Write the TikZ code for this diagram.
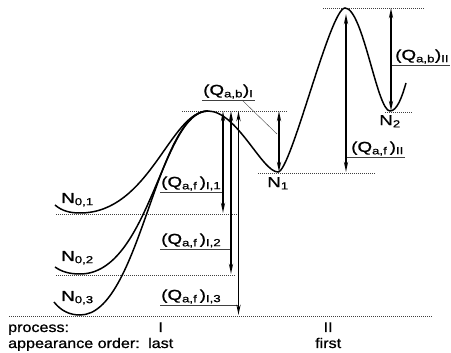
\documentclass[tikz,border=0pt]{standalone}
\usepackage{fontspec}
\setmainfont[FakeStretch=1.15,FakeBold=0.9]{Liberation Sans}
\newfontfamily\lblfont[FakeStretch=1.3,FakeBold=0.8]{Liberation Sans}
\usetikzlibrary{arrows.meta,positioning}
\newcommand{\sbs}[1]{\textsubscript{#1}}

\begin{document}
\begin{tikzpicture}[
  x=1pt, y=1pt,
  font=\fontsize{14}{16}\selectfont,
  curve/.style={line width=1.5pt, black},
  level/.style={line width=0.5pt, black!75, dash pattern=on 1pt off 1pt},
  leader/.style={line width=0.7pt, black!75},
  qarrow/.style={{Stealth[length=10pt,width=4pt]}-{Stealth[length=10pt,width=4pt]}, line width=1.9pt},
  qlabel/.style={anchor=south west, inner xsep=1pt, inner ysep=1.2pt,
    font=\lblfont\fontsize{14.5}{16}\selectfont},
  nlabel/.style={inner sep=0pt, font=\lblfont\fontsize{14.5}{16}\selectfont},
  plain/.style={anchor=base west, inner sep=0pt}
]
\useasboundingbox (0,0) rectangle (451,-353);
% Extrema of the curve
\coordinate (min01) at (80,-213);
\coordinate (min02) at (80,-274);
\coordinate (min03) at (80,-315);
\coordinate (top1)  at (208,-111);
\coordinate (min1)  at (278,-172);
\coordinate (top2)  at (345,-8);
\coordinate (min2)  at (390,-111);
\coordinate (tipII) at (346,-14);
% Arrow columns
\coordinate (cI1)  at (223,0);
\coordinate (cI2)  at (231,0);
\coordinate (cI3)  at (238.5,0);
\coordinate (cbI)  at (279,0);
\coordinate (cfII) at (346,0);
\coordinate (cbII) at (391,0);

% Levels
\draw[level] (56,-214) -- (237,-214);
\draw[level] (56,-275) -- (235,-275);
\draw[level] (9,-316) -- (433,-316);
\draw[level] (182,-111) -- (287,-111);
\draw[level] (258,-173) -- (375,-173);
\draw[level] (323,-8) -- (424,-8);
\draw[level] (385,-112) -- (412,-112);

% Labels
\node[qlabel] (qbI)  at (202,-100) {(Q\sbs{a,b})\sbs{I}};
\node[qlabel] (qfI1) at (160,-192) {(Q\sbs{a,f}\,)\sbs{I,1}};
\node[qlabel] (qfI2) at (160,-249) {(Q\sbs{a,f}\,)\sbs{I,2}};
\node[qlabel] (qfI3) at (160,-305) {(Q\sbs{a,f}\,)\sbs{I,3}};
\node[qlabel] (qfII) at (350,-157) {(Q\sbs{a,f}\,)\sbs{II}};
\node[qlabel] (qbII) at (394,-65)  {(Q\sbs{a,b})\sbs{II}};
\coordinate (kink) at (242,-100);
\coordinate (hit)  at (277,-134);
\draw[leader] (qbI.south west) -- (qbI.south east);
\draw[leader, line width=0.4pt] (kink) -- (hit);
\draw[leader] (qfI1.south west) -- (qfI1.south west -| cI1);
\draw[leader] (qfI2.south west) -- (qfI2.south west -| cI2);
\draw[leader] (qfI3.south west) -- (qfI3.south west -| cI3);
\draw[leader] (qfII.south west -| cfII) -- (qfII.south east);
\draw[leader] (qbII.south west -| cbII) -- (qbII.south east);

% Curves
\draw[curve] (55,-205) .. controls (62,-211) and (70,-213) .. (min01)
  .. controls (150,-213) and (170,-111) .. (top1)
  .. controls (237,-111) and (262,-172) .. (min1)
  .. controls (291,-172) and (330,-8) .. (top2)
  .. controls (363,-8) and (377,-111) .. (min2)
  .. controls (397,-111) and (402,-97) .. (406,-83);
\draw[curve] (55,-267) .. controls (62,-272) and (70,-274) .. (min02)
  .. controls (150,-274) and (162,-111) .. (top1);
\draw[curve] (54,-302) .. controls (61,-311) and (70,-315) .. (min03)
  .. controls (140,-315) and (156,-111) .. (top1);

% Arrows
\draw[qarrow] (top1 -| cI1) -- (min01 -| cI1);
\draw[qarrow] (top1 -| cI2) -- (min02 -| cI2);
\draw[qarrow] (top1 -| cI3) -- (min03 -| cI3);
\draw[qarrow] (top1 -| cbI) -- (min1 -| cbI);
\draw[qarrow] (tipII) -- (min1 -| cfII);
\draw[qarrow] (top2 -| cbII) -- (min2 -| cbII);

% Level names
\node[nlabel, anchor=base west] (n01) at (61,-203) {N\sbs{0,1}};
\node[nlabel, anchor=base west] (n02) at (61,-261) {N\sbs{0,2}};
\node[nlabel, anchor=base west] (n03) at (61,-301) {N\sbs{0,3}};
\node[nlabel, below=5pt of min1] (n1) {N\sbs{1}};
\node[nlabel, below=4pt of min2] (n2) {N\sbs{2}};

% Bottom rows
\node[plain] (proc)  at (8,-332)   {process:};
\node[plain] (order) at (8,-348)   {appearance order:};
\node[plain] (last)  at (148,-348) {last};
\node[plain] (first) at (315,-348) {first};
\node[anchor=base, inner sep=0pt] (procI)  at (last.base |- proc.base)  {I};
\node[anchor=base, inner sep=0pt] (procII) at (first.base |- proc.base) {II};
\end{tikzpicture}
\end{document}
